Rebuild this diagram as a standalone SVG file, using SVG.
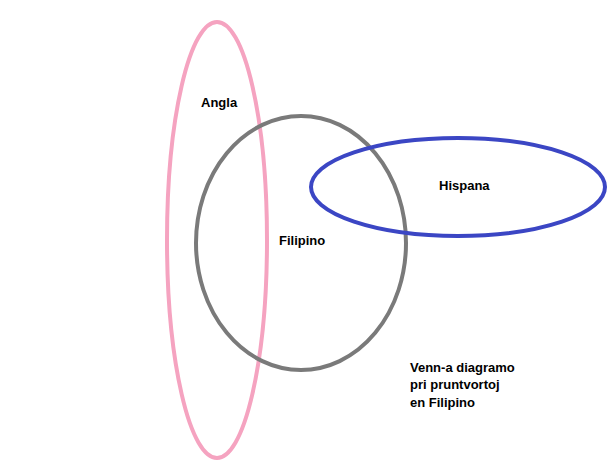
<svg xmlns="http://www.w3.org/2000/svg" width="614" height="475" viewBox="0 0 614 475">
<style>
text{font-family:"Liberation Sans",Arial,sans-serif;font-weight:bold;font-size:13px;fill:#000}
ellipse{fill:none;stroke-width:4}
</style>
<rect width="614" height="475" fill="#fff"/>
<g id="angla"><ellipse cx="217" cy="240" rx="50" ry="218" stroke="#f5a3c0"/><text x="201" y="107">Angla</text></g>
<g id="filipino"><ellipse cx="301" cy="243" rx="105" ry="127" stroke="#7a7a7a"/><text x="279" y="245">Filipino</text></g>
<g id="hispana"><ellipse cx="458" cy="187" rx="147" ry="49" stroke="#3b46c4"/><text x="439" y="190">Hispana</text></g>
<g id="connectors"/>
<text x="410" y="372">Venn-a diagramo</text>
<text x="410" y="389">pri pruntvortoj</text>
<text x="410" y="407">en Filipino</text>
</svg>
